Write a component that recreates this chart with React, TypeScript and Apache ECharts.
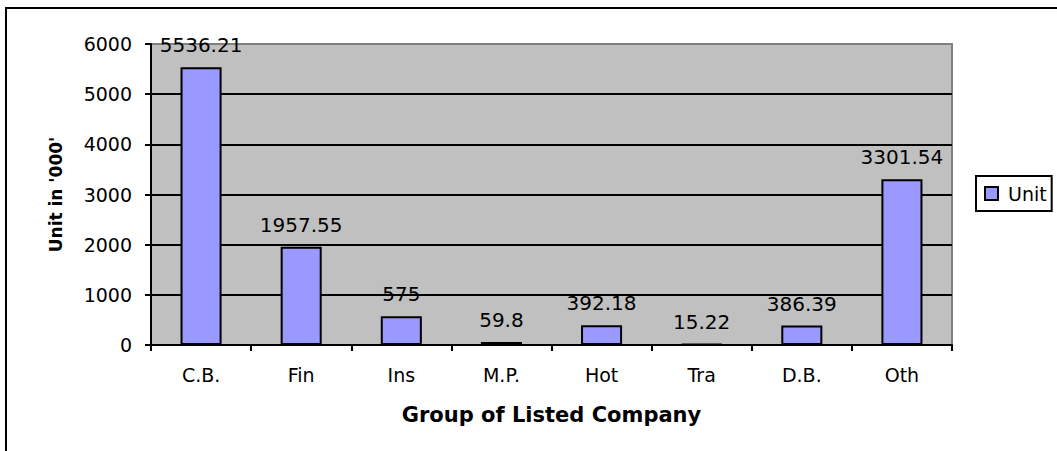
import React, { useEffect, useRef } from "react";
import * as echarts from "echarts";

const categories = ["C.B.", "Fin", "Ins", "M.P.", "Hot", "Tra", "D.B.", "Oth"];
const unitValues = [5536.21, 1957.55, 575, 59.8, 392.18, 15.22, 386.39, 3301.54];
const yTicks = { min: 0, max: 6000, interval: 1000 };
const seriesName = "Unit";
const xTitle = "Group of Listed Company";
const yTitle = "Unit in '000'";

const FONT = "DejaVu Sans";

export default function App() {
  const ref = useRef<HTMLDivElement>(null);
  useEffect(() => {
    document.body.style.margin = "0";
    const chart = echarts.init(ref.current!, null, { renderer: "svg" });
    chart.setOption({
      animation: false,
      backgroundColor: "#ffffff",
      textStyle: { fontFamily: FONT, color: "#000" },
      grid: {
        left: 151,
        top: 44,
        right: 105,
        bottom: 106,
        show: true,
        backgroundColor: "#C0C0C0",
        borderColor: "#808080",
        borderWidth: 2,
      },
      legend: {
        show: true,
        left: 976,
        top: 176,
        orient: "vertical",
        padding: [8, 5, 8, 8],
        borderColor: "#000",
        borderWidth: 2,
        backgroundColor: "#fff",
        borderRadius: 0,
        itemWidth: 13,
        itemHeight: 13,
        icon: "rect",
        itemStyle: { color: "#9999FF", borderColor: "#000", borderWidth: 2 },
        textStyle: { fontFamily: FONT, fontSize: 19, color: "#000", padding: [0, 0, 0, 5] },
        data: [seriesName],
      },
      graphic: [
        {
          type: "rect",
          shape: { x: 6, y: 8, width: 1200, height: 600 },
          style: { fill: "none", stroke: "#000", lineWidth: 2 },
          silent: true,
          z: 100,
        },
      ],
      xAxis: {
        type: "category",
        data: categories,
        boundaryGap: true,
        name: xTitle,
        nameLocation: "middle",
        nameGap: 59,
        nameTextStyle: { fontFamily: FONT, fontSize: 21, fontWeight: "bold", color: "#000" },
        axisLine: { show: true, lineStyle: { color: "#000", width: 2 } },
        axisTick: { show: true, alignWithLabel: false, length: 6, lineStyle: { color: "#000", width: 2 } },
        axisLabel: { fontFamily: FONT, fontSize: 19, color: "#000", margin: 20, interval: 0 },
        splitLine: { show: false },
      },
      yAxis: {
        type: "value",
        min: yTicks.min,
        max: yTicks.max,
        interval: yTicks.interval,
        name: yTitle,
        nameLocation: "middle",
        nameGap: 87,
        nameRotate: 90,
        nameTextStyle: { fontFamily: FONT, fontSize: 17, fontWeight: "bold", color: "#000" },
        axisLine: { show: true, lineStyle: { color: "#000", width: 2 } },
        axisTick: { show: true, length: 6, lineStyle: { color: "#000", width: 2 } },
        axisLabel: {
          fontFamily: FONT,
          fontSize: 19,
          color: "#000",
          margin: 19,
          formatter: (v: number) => String(v),
        },
        splitLine: { show: true, showMinLine: false, showMaxLine: false, lineStyle: { color: "#000", width: 2 } },
      },
      series: [
        {
          name: seriesName,
          type: "bar",
          data: unitValues,
          barWidth: "41%",
          itemStyle: { color: "#9999FF", borderColor: "#000", borderWidth: 2 },
          label: {
            show: true,
            position: "top",
            distance: 12,
            fontFamily: FONT,
            fontSize: 20,
            color: "#000",
            formatter: (p: any) => String(p.value),
          },
        },
      ],
    });
    return () => chart.dispose();
  }, []);
  return <div ref={ref} style={{ width: 1057, height: 451 }} />;
}
